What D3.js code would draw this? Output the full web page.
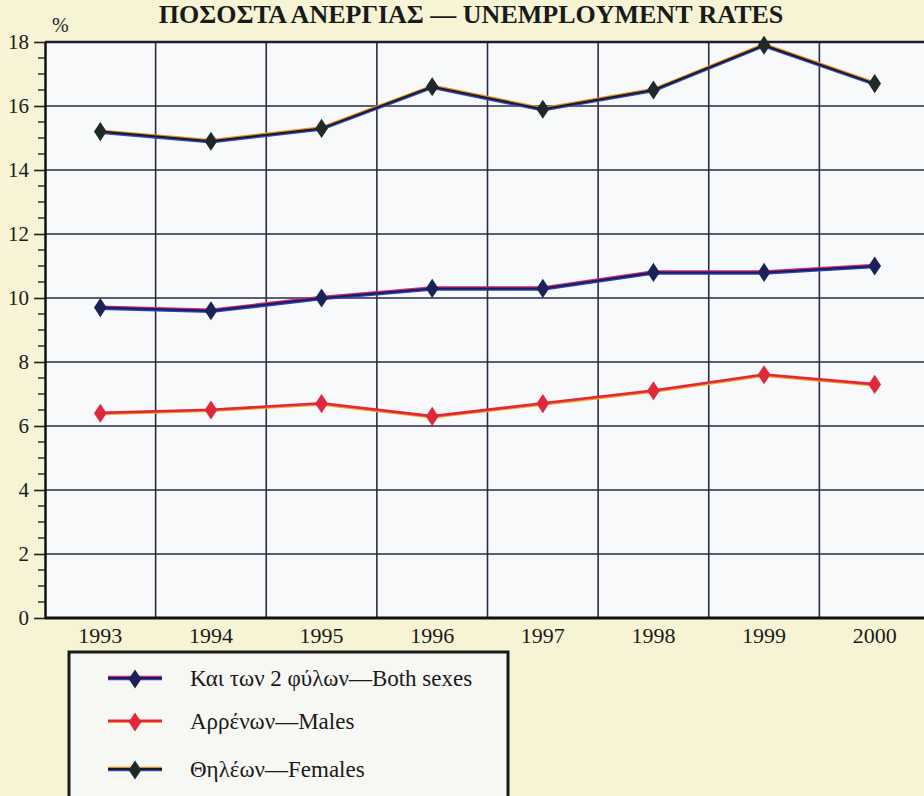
<!DOCTYPE html>
<html>
<head>
<meta charset="utf-8">
<script src="https://cdn.jsdelivr.net/npm/d3@7"></script>
<style>
  html, body { margin: 0; padding: 0; background: #f6f4d4; }
  svg { display: block; }
</style>
</head>
<body>
<script>
// Unemployment rates (%), 1993–2000
const years = ["1993", "1994", "1995", "1996", "1997", "1998", "1999", "2000"];
const bothSexes = [9.7, 9.6, 10.0, 10.3, 10.3, 10.8, 10.8, 11.0];
const males     = [6.4, 6.5, 6.7, 6.3, 6.7, 7.1, 7.6, 7.3];
const females   = [15.2, 14.9, 15.3, 16.6, 15.9, 16.5, 17.9, 16.7];
const yTicks = [0, 2, 4, 6, 8, 10, 12, 14, 16, 18];
const seriesNames = ["Και των 2 φύλων—Both sexes", "Αρρένων—Males", "Θηλέων—Females"];

const W = 924, H = 796;
const plotLeft = 45, plotRight = 930, plotTop = 42, plotBottom = 618;
const serif = "Liberation Serif, Times New Roman, serif";

const svg = d3.select("body").append("svg").attr("width", W).attr("height", H);
svg.append("rect").attr("width", W).attr("height", H).attr("fill", "#f6f4d4");

const x = d3.scaleBand().domain(years).range([plotLeft, plotRight]);
const y = d3.scaleLinear().domain([0, 18]).range([plotBottom, plotTop]);

// Title
svg.append("text")
  .attr("x", 471).attr("y", 23)
  .attr("text-anchor", "middle")
  .attr("font-family", serif)
  .attr("font-weight", "bold").attr("font-size", 26)
  .attr("fill", "#1a1a1a")
  .text("ΠΟΣΟΣΤΑ ΑΝΕΡΓΙΑΣ — UNEMPLOYMENT RATES");

svg.append("text")
  .attr("x", 52).attr("y", 32)
  .attr("font-family", serif).attr("font-size", 20)
  .attr("fill", "#222").text("%");

// Plot background
svg.append("rect")
  .attr("x", plotLeft).attr("y", plotTop).attr("width", plotRight - plotLeft).attr("height", plotBottom - plotTop)
  .attr("fill", "#f8f9fb");

// Horizontal grid
svg.append("g").selectAll("line").data(yTicks.filter(d => d > 0 && d < 18)).join("line")
  .attr("x1", plotLeft).attr("x2", plotRight)
  .attr("y1", d => y(d)).attr("y2", d => y(d))
  .attr("stroke", "#2b2a44").attr("stroke-width", 1.6);

// Vertical grid at category boundaries
svg.append("g").selectAll("line").data(years.slice(1)).join("line")
  .attr("x1", d => x(d)).attr("x2", d => x(d))
  .attr("y1", plotTop).attr("y2", plotBottom)
  .attr("stroke", "#2b2a44").attr("stroke-width", 1.6);

// Plot frame
svg.append("line").attr("x1", plotLeft).attr("x2", plotRight).attr("y1", plotTop).attr("y2", plotTop)
  .attr("stroke", "#1c1c2c").attr("stroke-width", 2.5);
svg.append("line").attr("x1", plotLeft).attr("x2", plotRight).attr("y1", plotBottom).attr("y2", plotBottom)
  .attr("stroke", "#111").attr("stroke-width", 3);

// Y axis with minor ticks
const yAxis = d3.axisLeft(y).tickValues(yTicks).tickSize(11).tickPadding(5).tickSizeOuter(0);
const gy = svg.append("g").attr("transform", `translate(${plotLeft},0)`).call(yAxis);
gy.select(".domain").attr("stroke", "#111").attr("stroke-width", 2.5);
gy.selectAll(".tick line").attr("stroke", "#222").attr("stroke-width", 1.6);
gy.selectAll(".tick text")
  .attr("font-family", serif)
  .attr("font-size", 21).attr("fill", "#1a1a1a");
const minor = d3.range(0, 18.01, 0.5).filter(v => v % 2 !== 0);
svg.append("g").selectAll("line").data(minor).join("line")
  .attr("x1", plotLeft - 7).attr("x2", plotLeft)
  .attr("y1", d => y(d)).attr("y2", d => y(d))
  .attr("stroke", "#222").attr("stroke-width", 1.4);

// X axis labels
const xAxis = d3.axisBottom(x).tickSize(0).tickPadding(9);
const gx = svg.append("g").attr("transform", `translate(0,${plotBottom})`).call(xAxis);
gx.select(".domain").remove();
gx.selectAll(".tick text")
  .attr("font-family", serif)
  .attr("font-size", 22).attr("fill", "#1a1a1a");

// Series: each drawn with layered strokes for the printed two-tone edge
const series = [
  { values: bothSexes, marker: "#1b2258",
    strokes: [{ c: "#2a3fd0", w: 2.4, dy: 1.1 }, { c: "#d2247a", w: 2.2, dy: -1.1 }, { c: "#1a1f4e", w: 2, dy: 0 }] },
  { values: males, marker: "#e0283c",
    strokes: [{ c: "#f0a020", w: 2.2, dy: 1 }, { c: "#e4263c", w: 2.6, dy: -0.3 }] },
  { values: females, marker: "#1d2a28",
    strokes: [{ c: "#2a4ad8", w: 2.4, dy: 1.1 }, { c: "#e08a2a", w: 2.2, dy: -1.1 }, { c: "#1f1a1a", w: 2, dy: 0 }] }
];

const line = d3.line().x((d, i) => x(years[i]) + x.bandwidth() / 2).y(d => y(d));
const diamond = d3.symbol().type(d3.symbolDiamond).size(105);

series.forEach(s => {
  const g = svg.append("g");
  s.strokes.forEach(st => {
    g.append("path").datum(s.values)
      .attr("d", line).attr("transform", `translate(0,${st.dy})`)
      .attr("fill", "none").attr("stroke", st.c).attr("stroke-width", st.w)
      .attr("stroke-linejoin", "round");
  });
  g.selectAll("path.mk").data(s.values).join("path").attr("class", "mk")
    .attr("d", diamond)
    .attr("transform", (d, i) => `translate(${x(years[i]) + x.bandwidth() / 2},${y(d)}) scale(1.15,1)`)
    .attr("fill", s.marker);
});

// Legend
const lg = svg.append("g");
lg.append("rect").attr("x", 69).attr("y", 652).attr("width", 439).attr("height", 160)
  .attr("fill", "#f7f7f4").attr("stroke", "#1a1a1a").attr("stroke-width", 3);
const legendY = [678, 721, 769];
series.forEach((s, i) => {
  const yy = legendY[i];
  s.strokes.forEach(st => {
    lg.append("line").attr("x1", 108).attr("x2", 162)
      .attr("y1", yy + st.dy).attr("y2", yy + st.dy)
      .attr("stroke", st.c).attr("stroke-width", st.w);
  });
  lg.append("path").attr("d", diamond).attr("transform", `translate(135,${yy + 1}) scale(1.15,1)`).attr("fill", s.marker);
  lg.append("text").attr("x", 190).attr("y", yy + 8)
    .attr("font-family", serif)
    .attr("font-size", 23).attr("fill", "#1a1a1a")
    .text(seriesNames[i]);
});
</script>
</body>
</html>
